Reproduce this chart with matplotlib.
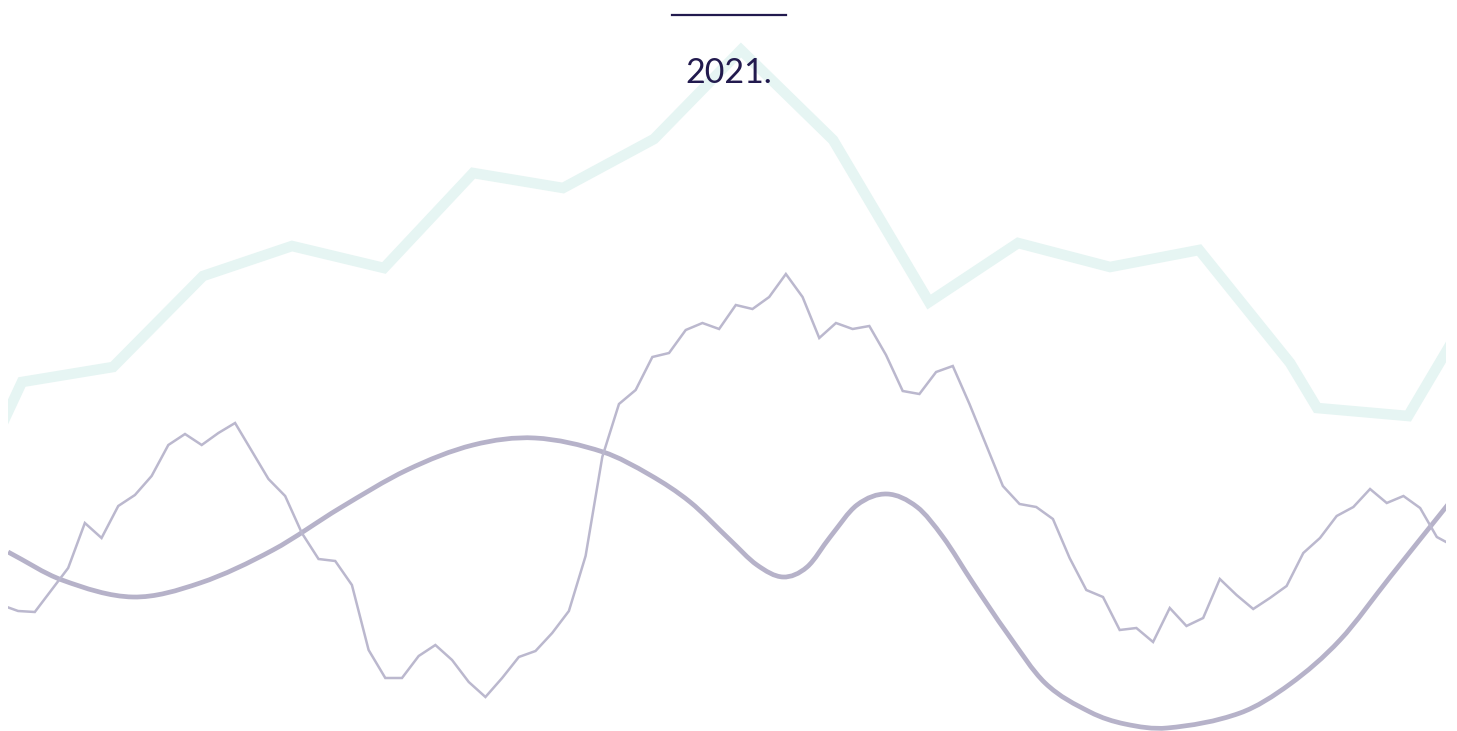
import matplotlib
matplotlib.use("Agg")
import matplotlib.pyplot as plt
from matplotlib.path import Path
from matplotlib.patches import PathPatch
from matplotlib.lines import Line2D
import numpy as np

# ---------------- data ----------------
title_text = "2021."

# thin jagged series: one value per week
weekly_values = [126, 120, 119, 141, 163, 208, 193, 225, 236, 255,
                 286, 297, 286, 298, 308, 280, 252, 235, 198, 172,
                 170, 146, 81, 53, 53, 75, 86, 71, 49, 34,
                 53, 74, 80, 98, 120, 175, 274, 327, 341, 374,
                 378, 401, 408, 402, 426, 422, 434, 457, 434, 393,
                 408, 402, 405, 376, 340, 337, 359, 365, 327, 286,
                 245, 227, 224, 212, 173, 141, 134, 101, 103, 89,
                 123, 105, 113, 152, 136, 122, 133, 145, 178, 193,
                 215, 224, 242, 228, 235, 223, 194, 185]
weekly_x = list(range(len(weekly_values)))

# thick light teal series
teal_x = [-4.16, 1.23, 6.69, 12.08, 17.41, 22.92, 28.26, 33.65, 39.10,
          44.31, 49.83, 55.58, 60.91, 66.42, 71.76, 77.21, 78.83, 84.28, 89.67]
teal_values = [156, 349, 364, 455, 485, 463, 558, 543, 592,
               681, 591, 429, 488, 464, 481, 368, 323, 315, 467]

# smooth trend series
trend_x = [0.40, 3.63, 7.88, 11.90, 16.27, 20.29, 24.30, 28.26, 31.97, 36.05,
           38.86, 41.26, 43.66, 45.27, 46.83, 48.27, 49.65, 51.26, 53.06, 54.86,
           56.41, 58.21, 60.25, 62.53, 65.22, 67.32, 69.84, 74.21, 77.21, 80.20,
           83.20, 86.55, 88.59]
trend_values = [179, 151, 134, 148, 181, 223, 261, 286, 293, 279,
                256, 229, 191, 166, 154, 164, 194, 226, 237, 224,
                194, 148, 98, 48, 19, 7, 3, 18, 47, 91,
                154, 224, 266]

# ---------------- styles ----------------
NAVY = "#221a4e"
TEAL = "#e6f5f3"
LILAC = "#bbb8ce"
LILAC_DARK = "#b6b2c9"

W, H = 1457, 731
fig = plt.figure(figsize=(W / 100, H / 100), dpi=100)
fig.patch.set_facecolor("white")

ax = fig.add_axes([8 / W, 0.0, (1446 - 8) / W, 1.0])
ax.set_xlim(0.395, 86.55)
ax.set_ylim(0, 731)
ax.axis("off")

# teal thick line
ax.plot(teal_x, teal_values, color=TEAL, lw=7.6, solid_joinstyle="miter",
        solid_capstyle="butt", zorder=1)

# smooth trend: cubic Hermite curve through the points, drawn as Bezier path
px = np.array(trend_x, dtype=float)
py = np.array(trend_values, dtype=float)
n = len(px)
m = np.zeros(n)
for i in range(n):
    if i == 0:
        m[i] = (py[1] - py[0]) / (px[1] - px[0])
    elif i == n - 1:
        m[i] = (py[-1] - py[-2]) / (px[-1] - px[-2])
    else:
        m[i] = (py[i + 1] - py[i - 1]) / (px[i + 1] - px[i - 1])
verts = [(px[0], py[0])]
codes = [Path.MOVETO]
for i in range(n - 1):
    dx = px[i + 1] - px[i]
    verts += [(px[i] + dx / 3, py[i] + m[i] * dx / 3),
              (px[i + 1] - dx / 3, py[i + 1] - m[i + 1] * dx / 3),
              (px[i + 1], py[i + 1])]
    codes += [Path.CURVE4] * 3
patch = PathPatch(Path(verts, codes), facecolor="none", edgecolor=LILAC_DARK,
                  lw=3.4, zorder=2)
ax.add_patch(patch)

# thin weekly line
ax.plot(weekly_x, weekly_values, color=LILAC, lw=1.8, solid_joinstyle="miter",
        zorder=3)

# title decoration
fig.add_artist(Line2D([672 / W, 786 / W], [1 - 15 / H, 1 - 15 / H],
                      transform=fig.transFigure, color=NAVY, lw=1.6))
fig.text(0.5, 1 - 73 / H, title_text, ha="center", va="center",
         fontsize=24.5, family=["Lato", "DejaVu Sans"], color=NAVY, zorder=5)

fig.savefig("out.png", dpi=100, facecolor="white")
